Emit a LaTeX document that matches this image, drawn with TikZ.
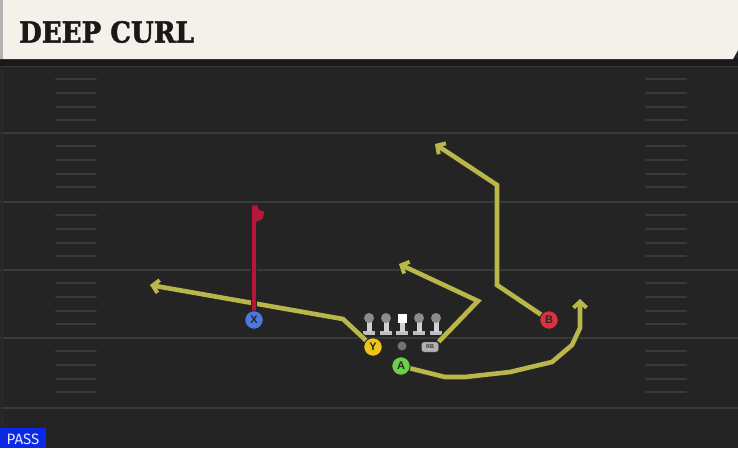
\documentclass[tikz,border=0pt]{standalone}
\usepackage{fontspec}
\setmainfont{Liberation Sans}
\newfontfamily\titlefont{DejaVu Serif Condensed}[BoldFeatures={FakeBold=1.6}]
\newfontfamily\tagfont{Fira Sans}
\usetikzlibrary{arrows.meta}

\definecolor{fieldbg}{HTML}{242424}
\definecolor{fieldline}{HTML}{3A3A3A}
\definecolor{header}{HTML}{F4F1EA}
\definecolor{route}{HTML}{B9B64A}
\definecolor{hotroute}{HTML}{B5163A}
\definecolor{xblue}{HTML}{4A7AE0}
\definecolor{yyellow}{HTML}{F0C419}
\definecolor{agreen}{HTML}{6AD04A}
\definecolor{bred}{HTML}{E0303F}
\definecolor{passblue}{HTML}{0A28E6}

\tikzset{
  player/.style={circle, draw=black!85, line width=0.9pt, minimum size=18.5pt,
    inner sep=0pt, font=\bfseries\fontsize{11}{11}\selectfont, text=black!85},
  routeline/.style={line width=4.6pt, draw=route, line join=miter,
    preaction={draw=black!85, line width=6.4pt},
    -{Straight Barb[length=6pt,width=13pt,line width=4pt]}},
  hash/.style={fieldline, line width=2pt, line cap=round},
  yardline/.style={fieldline, line width=2.2pt}
}

\begin{document}
\begin{tikzpicture}[x=1pt, y=-1pt]

  \useasboundingbox (0,0) rectangle (738,448);
  \fill[fieldbg] (0,0) rectangle (738,448);

  % yard lines and hashes
  \foreach \yl in {66,133,202,270,338,408}
    \draw[yardline] (0,\yl) -- (738,\yl);
  \foreach \yl in {66,133,202,270,338}{
    \foreach \dy in {13,27,41,54}{
      \draw[hash] (56,\yl+\dy) -- (96,\yl+\dy);
      \draw[hash] (646,\yl+\dy) -- (686,\yl+\dy);
    }
  }
  \draw[fieldline!70!black, line width=2pt] (2,60) -- (2,448);

  % header
  \fill[black!90] (0,58) rectangle (738,66);
  \fill[header] (0,0) -- (738,0) -- (738,50) -- (733,59) -- (0,59) -- cycle;
  \fill[black!30] (0,0) rectangle (2.5,59);
  \node[anchor=west, font=\titlefont\bfseries\fontsize{29}{29}\selectfont,
    text=black!90, inner sep=0pt] (title) at (19,32) {DEEP CURL};

  % line
  \foreach \lx in {369,386,419,436}{
    \fill[black!25] (\lx-6,331) rectangle (\lx+6,335);
    \fill[black!18] (\lx-2.5,321) rectangle (\lx+2.5,332);
    \fill[black!45] (\lx,318) circle (5);
  }
  \fill[black!25] (396,331) rectangle (408,335);
  \fill[black!18] (399.5,321) rectangle (404.5,332);
  \fill[white] (397.5,313.5) rectangle (406.5,322.5);
  \node[circle, fill=black!55, minimum size=9pt, inner sep=0pt] (qb) at (402,346) {};
  \node[rounded corners=2.5pt, fill=black!30, draw=black!70, minimum width=17pt,
    minimum height=10pt, inner sep=0pt, font=\bfseries\fontsize{5.5}{5.5}\selectfont,
    text=black!80] (rb) at (430,347) {RB};

  % route bends
  \coordinate (ya) at (343,319);
  \coordinate (ye) at (150,285);
  \coordinate (ra) at (478,301);
  \coordinate (re) at (399,264);
  \coordinate (ba) at (497,285);
  \coordinate (bb) at (497,185);
  \coordinate (be) at (435,144);
  \coordinate (xe) at (254,207);
  \coordinate (ae) at (580,299);

  % routes
  \draw[routeline] (373,347) -- (ya) -- (ye);
  \draw[routeline] (rb.north east) -- (ra) -- (re);
  \draw[routeline] (549,320) -- (ba) -- (bb) -- (be);
  \draw[routeline] (401,366) -- (445,377) -- (465,377) -- (510,372)
    -- (552,362) -- (572,345) -- (580,328) -- (ae);
  \draw[line width=4.6pt, hotroute, preaction={draw=black!85, line width=6.4pt}]
    (254,320) -- (xe);
  \fill[hotroute] (251.5,206) -- (257,205) -- (259,210) -- (264.5,211.5)
    -- (262.5,219) -- (256,222) -- cycle;

  % players
  \node[player, fill=xblue] (X) at (254,320) {X};
  \node[player, fill=yyellow] (Y) at (373,347) {Y};
  \node[player, fill=agreen] (A) at (401,366) {A};
  \node[player, fill=bred] (B) at (549,320) {B};

  % play type
  \fill[passblue] (0,428) rectangle (46,448);
  \node[font=\tagfont\fontsize{15}{15}\selectfont, text=white!90!blue,
    inner sep=0pt] (pass) at (23,439) {PASS};

\end{tikzpicture}
\end{document}
